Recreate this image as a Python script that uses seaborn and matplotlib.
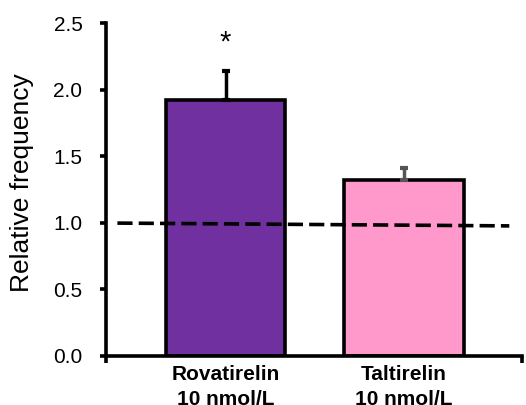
import numpy as np
import pandas as pd
import matplotlib
matplotlib.use("Agg")
import matplotlib.pyplot as plt
import seaborn as sns

groups = ["Rovatirelin\n10 nmol/L", "Taltirelin\n10 nmol/L"]
means = [1.92, 1.32]
sem = [0.22, 0.09]
bar_colors = ["#7030A0", "#FF99CC"]
err_colors = ["black", "#555555"]

df = pd.DataFrame({"group": groups, "freq": means})

sns.set_style("white")
plt.rcParams["font.family"] = ["Liberation Sans", "DejaVu Sans"]
plt.rcParams.update({"text.color": "black", "axes.labelcolor": "black",
                     "xtick.color": "black", "ytick.color": "black"})

fig = plt.figure(figsize=(5.26, 4.05), dpi=100)
ax = fig.add_axes([0.2015, 0.121, 0.7905, 0.822])

sns.barplot(data=df, x="group", y="freq", hue="group", palette=bar_colors,
            width=0.667, edgecolor="black", linewidth=2.6, legend=False,
            saturation=1, ax=ax)

# upward-only error bars
for i in range(len(groups)):
    ax.errorbar(i, means[i], yerr=[[0], [sem[i]]], fmt="none",
                ecolor=err_colors[i], elinewidth=2.5, capsize=3, capthick=3,
                zorder=1)

# significance mark
ax.text(0, 2.35, "*", ha="center", va="center", fontsize=21)

# reference line at 1.0
ax.plot([-0.606, 1.59], [0.998, 0.977], color="black", ls=(0, (4.2, 1.7)),
        lw=2.6, zorder=5)

ax.set_xlim(-0.67, 1.66)
ax.set_ylim(0, 2.5)
ax.set_yticks([0, 0.5, 1.0, 1.5, 2.0, 2.5])
ax.set_yticklabels(["0.0", "0.5", "1.0", "1.5", "2.0", "2.5"], fontsize=15)
ax.set_xlabel("")
ax.set_ylabel("Relative frequency", fontsize=19)
ax.yaxis.set_label_coords(-0.172, 0.521)
ax.set_xticks([0, 1])
ax.set_xticklabels(groups, fontsize=15, fontweight="bold", linespacing=1.42)
ax.set_xticks([-0.67, 1.66], minor=True)

for s in ["top", "right"]:
    ax.spines[s].set_visible(False)
for s in ["left", "bottom"]:
    ax.spines[s].set_linewidth(2.6)
    ax.spines[s].set_color("black")

ax.tick_params(axis="y", which="major", left=True, direction="out",
               length=4, width=2.6, pad=13)
ax.tick_params(axis="x", which="major", bottom=False, pad=3)
ax.tick_params(axis="x", which="minor", bottom=True, direction="out",
               length=5, width=2.6)

fig.savefig("out.png", dpi=100)
